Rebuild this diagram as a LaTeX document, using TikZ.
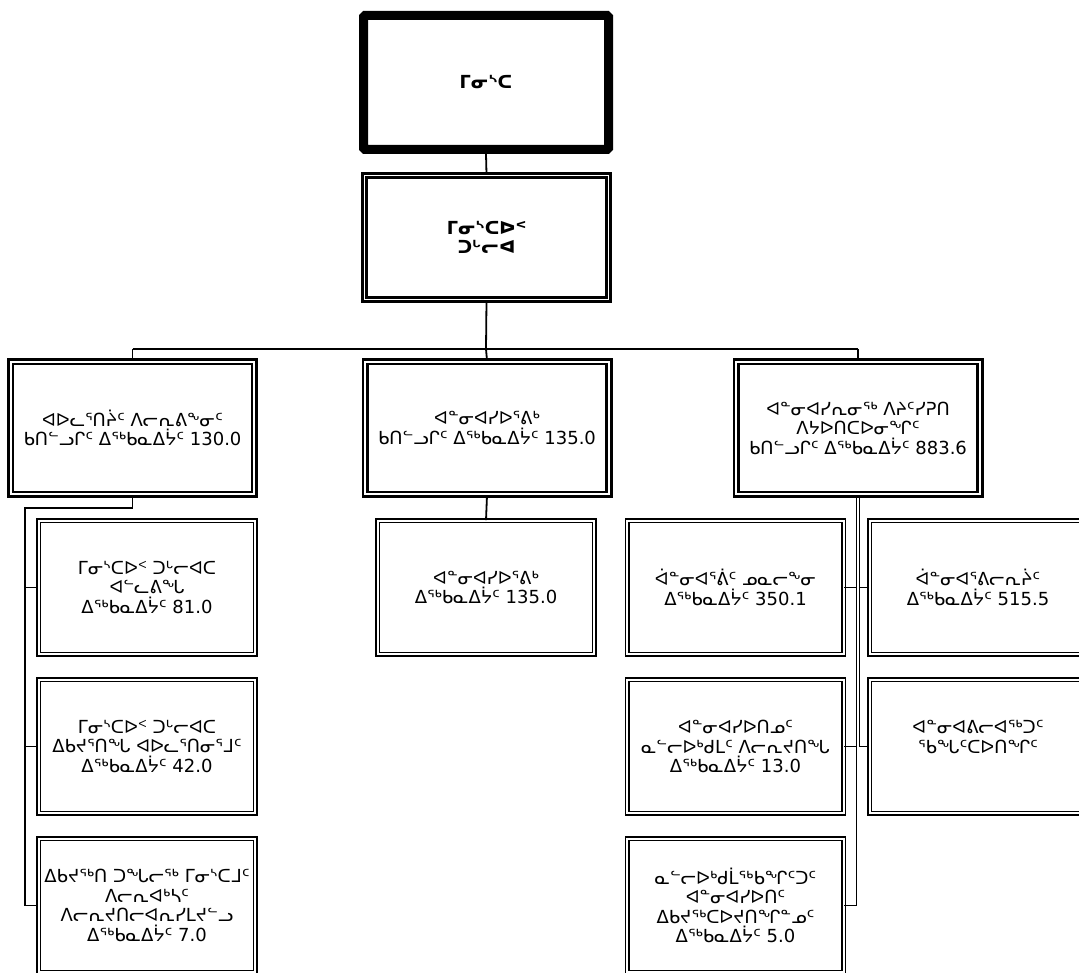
\documentclass[tikz,border=0pt]{standalone}
\usepackage{fontspec}
\setmainfont{DejaVu Sans}
\begin{document}
\begin{tikzpicture}[x=1pt,y=-1pt,
  every node/.style={font=\fontsize{18}{19.5}\selectfont, align=center, inner sep=0pt},
  topbox/.style={draw, line width=9pt, rounded corners=1.5pt, minimum width=245pt, minimum height=134pt, font=\bfseries\fontsize{18}{19.5}\selectfont},
  midbox/.style={draw, double, line width=2.7pt, double distance=1.5pt, minimum width=244pt, minimum height=124pt, font=\bfseries\fontsize{18}{19.5}\selectfont},
  unitbox/.style={draw, double, line width=2.7pt, double distance=2pt, minimum width=243.6pt, minimum height=132.6pt},
  leafbox/.style={draw, double, line width=1.4pt, double distance=2.4pt, minimum width=216.5pt, minimum height=133.5pt},
  link/.style={line width=1.8pt}
]
\useasboundingbox (0,0) rectangle (1079,973);
\clip (0,0) rectangle (1079,973);

\node[topbox] (top) at (486,82.5) {ᒥᓂᔅᑕ};
\node[midbox] (dm) at (486.5,237.5) {ᒥᓂᔅᑕᐅᑉ\\ᑐᒡᓕᐊ};

\node[unitbox] (ua) at (132.5,428) {ᐊᐅᓚᕐᑎᔩᑦ ᐱᓕᕆᕕᖕᓂᑦ\\ᑲᑎᓪᓗᒋᑦ ᐃᖅᑲᓇᐃᔮᑦ 130.0};
\node[unitbox] (ub) at (487,428) {ᐊᓐᓂᐊᓯᐅᕐᕕᒃ\\ᑲᑎᓪᓗᒋᑦ ᐃᖅᑲᓇᐃᔮᑦ 135.0};
\node[unitbox] (uc) at (858,428) {ᐊᓐᓂᐊᓯᕆᓂᖅ ᐱᔨᑦᓯᕈᑎ\\ᐱᔭᐅᑎᑕᐅᓂᖏᑦ\\ᑲᑎᓪᓗᒋᑦ ᐃᖅᑲᓇᐃᔮᑦ 883.6};

\node[leafbox] (a1) at (147,587.5) {ᒥᓂᔅᑕᐅᑉ ᑐᒡᓕᐊᑕ\\ᐊᓪᓚᕕᖓ\\ᐃᖅᑲᓇᐃᔮᑦ 81.0};
\node[leafbox] (a2) at (147,746.5) {ᒥᓂᔅᑕᐅᑉ ᑐᒡᓕᐊᑕ\\ᐃᑲᔪᕐᑎᖓ ᐊᐅᓚᕐᑎᓂᕐᒧᑦ\\ᐃᖅᑲᓇᐃᔮᑦ 42.0};
\node[leafbox] (a3) at (147,905.5) {ᐃᑲᔪᖅᑎ ᑐᖓᓕᖅ ᒥᓂᔅᑕᒧᑦ\\ᐱᓕᕆᐊᒃᓴᑦ\\ᐱᓕᕆᔪᑎᓕᐊᕆᓯᒪᔪᓪᓗ\\ᐃᖅᑲᓇᐃᔮᑦ 7.0};

\node[leafbox] (b1) at (486,587.5) {ᐊᓐᓂᐊᓯᐅᕐᕕᒃ\\ᐃᖅᑲᓇᐃᔮᑦ 135.0};

\node[leafbox] (c1) at (735.5,587.5) {ᐋᓐᓂᐊᕐᕖᑦ ᓄᓇᓕᖕᓂ\\ᐃᖅᑲᓇᐃᔮᑦ 350.1};
\node[leafbox] (c2) at (978,587.5) {ᐋᓐᓂᐊᕐᕕᓕᕆᔩᑦ\\ᐃᖅᑲᓇᐃᔮᑦ 515.5};
\node[leafbox] (c3) at (735.5,746.5) {ᐊᓐᓂᐊᓯᐅᑎᓄᑦ\\ᓇᓪᓕᐅᒃᑯᒪᑦ ᐱᓕᕆᔪᑎᖓ\\ᐃᖅᑲᓇᐃᔮᑦ 13.0};
\node[leafbox] (c4) at (978,746.5) {ᐊᓐᓂᐊᕕᓕᐊᖅᑐᑦ\\ᖃᖓᑦᑕᐅᑎᖏᑦ\\\mbox{}};
\node[leafbox] (c5) at (735.5,905.5) {ᓇᓪᓕᐅᒃᑯᒫᖅᑲᖏᑦᑐᑦ\\ᐊᓐᓂᐊᓯᐅᑎᑦ\\ᐃᑲᔪᖅᑕᐅᔪᑎᖏᓐᓄᑦ\\ᐃᖅᑲᓇᐃᔮᑦ 5.0};

\coordinate (j0) at (486,349);
\coordinate (ja) at (132.5,349);
\coordinate (jc) at (858,349);
\coordinate (la) at (132.5,508);
\coordinate (lb) at (25,508);

\draw[link] (top.south) -- (dm.north);
\draw[link] (dm.south) -- (j0);
\draw[link] (ja) -- (jc);
\draw[link] (ja) -- (ua.north);
\draw[link] (j0) -- (ub.north);
\draw[link] (jc) -- (uc.north);

\draw[link] (ua.south) -- (la) -- (lb) |- (a3.west);
\draw[link] (lb |- a1.west) -- (a1.west);
\draw[link] (lb |- a2.west) -- (a2.west);

\draw[link] (ub.south) -- (b1.north);

\draw[link] ([xshift=-1.5pt]uc.south) -- ([xshift=-1.5pt]uc.south |- c5.east) -- (c5.east);
\draw[link] ([xshift=1.5pt]uc.south) -- ([xshift=1.5pt]uc.south |- c4.west);
\draw[link] ([xshift=-1.5pt]uc.south |- c1.east) -- (c1.east);
\draw[link] ([xshift=-1.5pt]uc.south |- c3.east) -- (c3.east);
\draw[link] ([xshift=1.5pt]uc.south |- c2.west) -- (c2.west);
\draw[link] ([xshift=1.5pt]uc.south |- c4.west) -- (c4.west);
\end{tikzpicture}
\end{document}
